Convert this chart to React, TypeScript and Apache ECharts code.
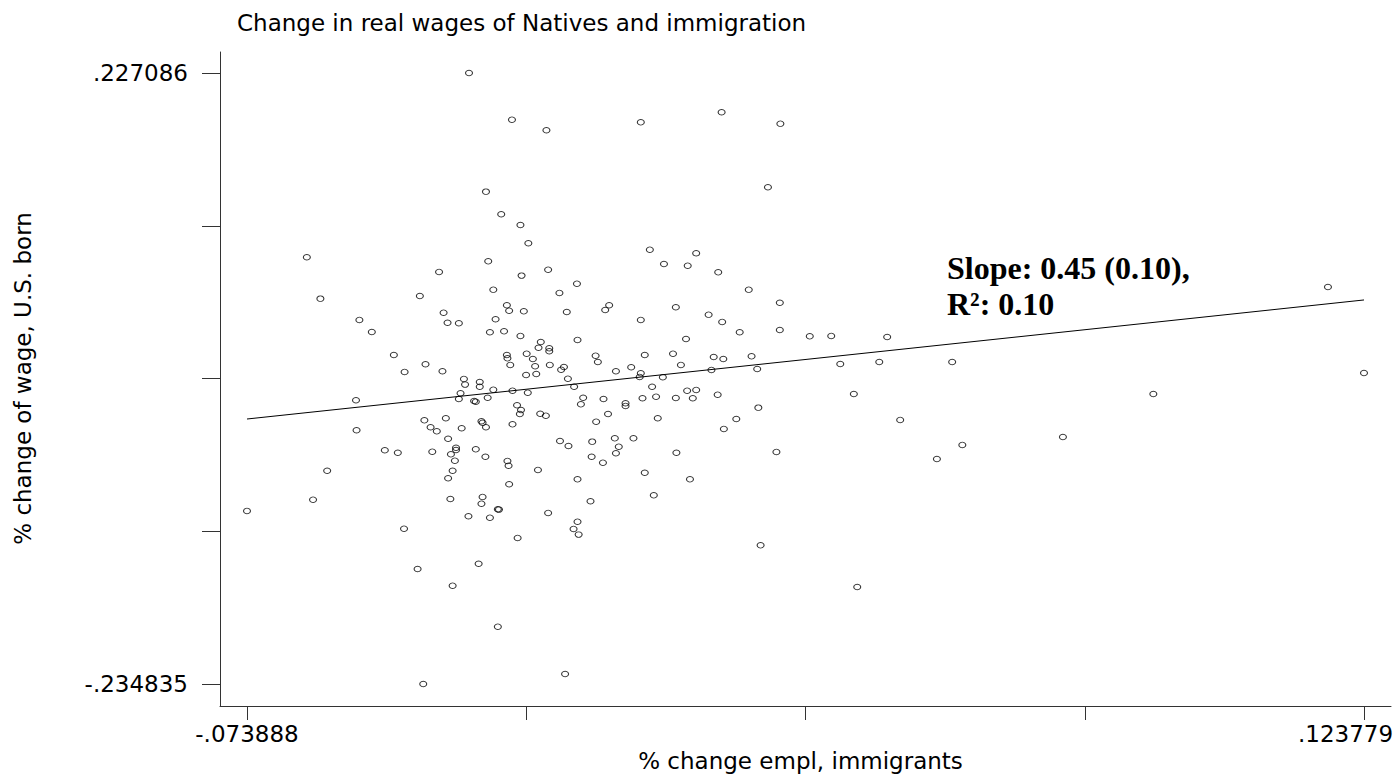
import React, { useEffect, useRef } from 'react';
import * as echarts from 'echarts';

const xs = [
  -0.0346, -0.0270, -0.0316, -0.0289, -0.0255, -0.0241, -0.0633, -0.0312, -0.0399, -0.0253,
  -0.0209, -0.0042, 0.0101, 0.0205, 0.0183, -0.0026, 0.0056, -0.0001, 0.0041, 0.0095, -0.0206,
  -0.0609, -0.0433, -0.0303, -0.0279, -0.0275, -0.0249, -0.0391, -0.0540, -0.0384, -0.0364,
  -0.0299, -0.0518, -0.0309, -0.0284, -0.0255, -0.0479, -0.0423, -0.0460, -0.0393, -0.0279,
  -0.0278, -0.0273, -0.0244, -0.0245, -0.0355, -0.0353, -0.0327, -0.0327, -0.0303, -0.0269,
  -0.0242, -0.0361, -0.0364, -0.0337, -0.0334, -0.0313, -0.0546, -0.0261, -0.0254, -0.0256,
  -0.0425, -0.0387, -0.0414, -0.0403, -0.0359, -0.0324, -0.0322, -0.0316, -0.0269, -0.0545,
  -0.0383, -0.0495, -0.0472, -0.0411, -0.0369, -0.0369, -0.0378, -0.0371, -0.0334, -0.0317,
  -0.0278, -0.0276, -0.0375, -0.0383, -0.0597,
  -0.0155, -0.0186, 0.0149, 0.0204, -0.0098, -0.0105, 0.0020, -0.0173, 0.0078, 0.0102,
  -0.0042, 0.0204, 0.0133, 0.0257, 0.0038, -0.0154, -0.0219, -0.0223, -0.0204, -0.0204,
  -0.0233, -0.0229, -0.0203, -0.0122, -0.0118, -0.0035, 0.0015, 0.0087, 0.0104, 0.0154,
  0.0029, -0.0183, -0.0178, -0.0086, -0.0059, -0.0042, -0.0044, -0.0003, 0.0083, 0.0164,
  -0.0227, -0.0171, -0.0160, -0.0022, -0.0144, -0.0148, -0.0108, -0.0069, -0.0069, -0.0039,
  -0.0015, 0.0020, 0.0040, 0.0056, 0.0050, 0.0094, -0.0220, -0.0210, -0.0100, -0.0121,
  -0.0012, 0.0166, 0.0127, 0.0105, -0.0185, -0.0170, -0.0128, -0.0088, -0.0055, -0.0081,
  -0.0086, -0.0129, -0.0109, 0.0021, 0.0198, -0.0224, -0.0035, -0.0154, 0.0045,
  -0.0275, -0.0622, -0.0379, -0.0322, -0.0324, -0.0295, -0.0293, -0.0347, -0.0309, -0.073888,
  -0.0461, -0.0260, -0.0437, -0.0329, -0.0375, -0.0295, -0.0427,
  -0.0019, -0.0131, -0.0206, -0.0154, -0.0161, -0.0152, 0.0170, -0.0176,
  0.0295, 0.0394, 0.0311, 0.0380, 0.0335, 0.0417, 0.0509, 0.0527, 0.0482, 0.0341,
  0.0705, 0.0865, 0.1174, 0.123779,
];

const ys = [
  0.227086, 0.1918, 0.1374, 0.1203, 0.1122, 0.0984, 0.0878, 0.0847, 0.0767, 0.0739,
  0.1838, 0.1898, 0.1974, 0.1888, 0.1407, 0.0935, 0.0908, 0.0827, 0.0814, 0.0764, 0.0784,
  0.0565, 0.0585, 0.0633, 0.0515, 0.0474, 0.0469, 0.0459, 0.0404, 0.0383, 0.0379,
  0.0409, 0.0313, 0.0311, 0.0318, 0.0283, 0.0139, 0.0069, 0.0011, 0.0016, 0.0139,
  0.0114, 0.0064, 0.0149, -0.0012, -0.0042, -0.0085, -0.0065, -0.0101, -0.0123, -0.0131,
  -0.0146, -0.0150, -0.0194, -0.0209, -0.0214, -0.0184, -0.0203, -0.0241, -0.0277, -0.0307,
  -0.0355, -0.0339, -0.0407, -0.0438, -0.0415, -0.0362, -0.0373, -0.0407, -0.0385, -0.0430,
  -0.0494, -0.0581, -0.0600, -0.0592, -0.0562, -0.0579, -0.0612, -0.0660, -0.0574, -0.0630,
  -0.0662, -0.0698, -0.0736, -0.0793, -0.0736,
  0.0678, 0.0608, 0.0633, 0.0534, 0.0515, 0.0479, 0.0500, 0.0464, 0.0444, 0.0389,
  0.0404, 0.0328, 0.0311, 0.0280, 0.0260, 0.0253, 0.0237, 0.0194, 0.0190, 0.0167,
  0.0109, 0.0054, 0.0064, 0.0134, 0.0086, 0.0139, 0.0149, 0.0124, 0.0109, 0.0129,
  0.0064, 0.0028, 0.0048, 0.0016, 0.0046, 0.0001, -0.0027, -0.0029, 0.0026, 0.0033,
  -0.0005, -0.0040, -0.0101, -0.0101, -0.0184, -0.0234, -0.0194, -0.0226, -0.0246, -0.0188,
  -0.0176, -0.0186, -0.0131, -0.0125, -0.0188, -0.0161, -0.0305, -0.0320, -0.0307, -0.0365,
  -0.0339, -0.0259, -0.0345, -0.0420, -0.0511, -0.0549, -0.0516, -0.0491, -0.0491, -0.0554,
  -0.0604, -0.0630, -0.0675, -0.0600, -0.0594, -0.0730, -0.0751, -0.0801, -0.0801,
  -0.0838, -0.0955, -0.0950, -0.0934, -0.0985, -0.1027, -0.1030, -0.1080, -0.1091, -0.1040,
  -0.1174, -0.1244, -0.1479, -0.1439, -0.1605, -0.1915, -0.234835,
  -0.0922, -0.0967, -0.1055, -0.1121, -0.1176, -0.1219, -0.1300, -0.2273,
  0.0283, 0.0275, 0.0071, 0.0086, -0.0156, -0.0352, 0.0086, -0.0541, -0.0647, -0.1615,
  -0.0481, -0.0156, 0.0653, 0.0003,
];

const xMin = -0.073888;
const xMax = 0.123779;
const yMin = -0.234835;
const yMax = 0.227086;
const xTickLabels = ['-.073888', '', '', '', '.123779'];
const yTickLabels = ['-.234835', '', '', '', '.227086'];
const fitX = [-0.073888, 0.123779];
const fitY = [-0.0345, 0.0555];

const titleText = 'Change in real wages of Natives and immigration';
const xTitle = '% change empl, immigrants';
const yTitle = '% change of wage, U.S. born';
const noteText = 'Slope: 0.45 (0.10),\nR²: 0.10';

const SANS = '"DejaVu Sans", Arial, sans-serif';
const AX = '#333';

export default function App() {
  const ref = useRef<HTMLDivElement>(null);
  useEffect(() => {
    document.body.style.margin = '0';
    if (!ref.current) return;
    const chart = echarts.init(ref.current, null, { renderer: 'svg' });
    const xInt = (xMax - xMin) / 4;
    const yInt = (yMax - yMin) / 4;
    const points = xs.map((x, i) => [x, ys[i]]);
    const fit = fitX.map((x, i) => [x, fitY[i]]);
    chart.setOption({
      animation: false,
      backgroundColor: '#fff',
      title: {
        text: titleText,
        left: 232,
        top: 6,
        textStyle: { fontSize: 23, fontFamily: SANS, fontWeight: 'normal', color: '#000' },
      },
      grid: [
        { left: 247, right: 35, top: 73, bottom: 93, outerBoundsMode: 'none', containLabel: false },
        { left: 220, right: 8, top: 52, bottom: 71, outerBoundsMode: 'none', containLabel: false },
      ],
      xAxis: [
        {
          gridIndex: 0,
          type: 'value',
          min: xMin,
          max: xMax,
          interval: xInt,
          offset: 22,
          axisLine: { show: false, onZero: false },
          axisTick: { show: true, length: 14, lineStyle: { color: AX, width: 1 } },
          axisLabel: {
            margin: 16,
            fontSize: 23,
            fontFamily: SANS,
            color: '#000',
            showMinLabel: true,
            showMaxLabel: true,
            formatter: (v: number) => {
              const idx = Math.round((v - xMin) / xInt);
              const s = xTickLabels[idx] ?? '';
              if (!s) return '';
              return idx === xTickLabels.length - 1 ? `{r|${s}}` : `{n|${s}}`;
            },
            rich: {
              n: { fontSize: 23, fontFamily: SANS, color: '#000' },
              r: { fontSize: 23, fontFamily: SANS, color: '#000', padding: [0, 37, 0, 0] },
            },
          },
          splitLine: { show: false },
          name: xTitle,
          nameLocation: 'middle',
          nameGap: 43,
          nameTextStyle: { fontSize: 23, fontFamily: SANS, color: '#000', padding: [0, 10, 0, 0] },
        },
        {
          gridIndex: 1,
          type: 'value',
          min: 0,
          max: 1,
          axisLine: { show: true, onZero: false, lineStyle: { color: AX, width: 1 } },
          axisTick: { show: false },
          axisLabel: { show: false },
          splitLine: { show: false },
        },
      ],
      yAxis: [
        {
          gridIndex: 0,
          type: 'value',
          min: yMin,
          max: yMax,
          interval: yInt,
          offset: 27,
          axisLine: { show: false, onZero: false },
          axisTick: { show: true, length: 18, lineStyle: { color: AX, width: 1 } },
          axisLabel: {
            margin: 32,
            fontSize: 23,
            fontFamily: SANS,
            color: '#000',
            showMinLabel: true,
            showMaxLabel: true,
            formatter: (v: number) => yTickLabels[Math.round((v - yMin) / yInt)] ?? '',
          },
          splitLine: { show: false },
          name: yTitle,
          nameLocation: 'middle',
          nameGap: 186,
          nameTextStyle: { fontSize: 23, fontFamily: SANS, color: '#000' },
        },
        {
          gridIndex: 1,
          type: 'value',
          min: 0,
          max: 1,
          axisLine: { show: true, onZero: false, lineStyle: { color: AX, width: 1 } },
          axisTick: { show: false },
          axisLabel: { show: false },
          splitLine: { show: false },
        },
      ],
      series: [
        {
          type: 'scatter',
          xAxisIndex: 0,
          yAxisIndex: 0,
          data: points,
          symbol: 'circle',
          symbolSize: [7, 5.5],
          itemStyle: { color: 'rgba(0,0,0,0)', borderColor: '#000', borderWidth: 1 },
          emphasis: { disabled: true },
        },
        {
          type: 'line',
          xAxisIndex: 0,
          yAxisIndex: 0,
          data: fit,
          symbol: 'none',
          lineStyle: { color: '#000', width: 1 },
          emphasis: { disabled: true },
        },
      ],
      graphic: [
        {
          type: 'text',
          x: 947,
          y: 250,
          style: {
            text: noteText,
            fontSize: 32,
            fontWeight: 'bold',
            fontFamily: '"Liberation Serif", "Times New Roman", serif',
            fill: '#000',
            lineHeight: 36,
          },
        },
      ],
    });
    return () => chart.dispose();
  }, []);
  return <div ref={ref} style={{ width: 1399, height: 777 }} />;
}
